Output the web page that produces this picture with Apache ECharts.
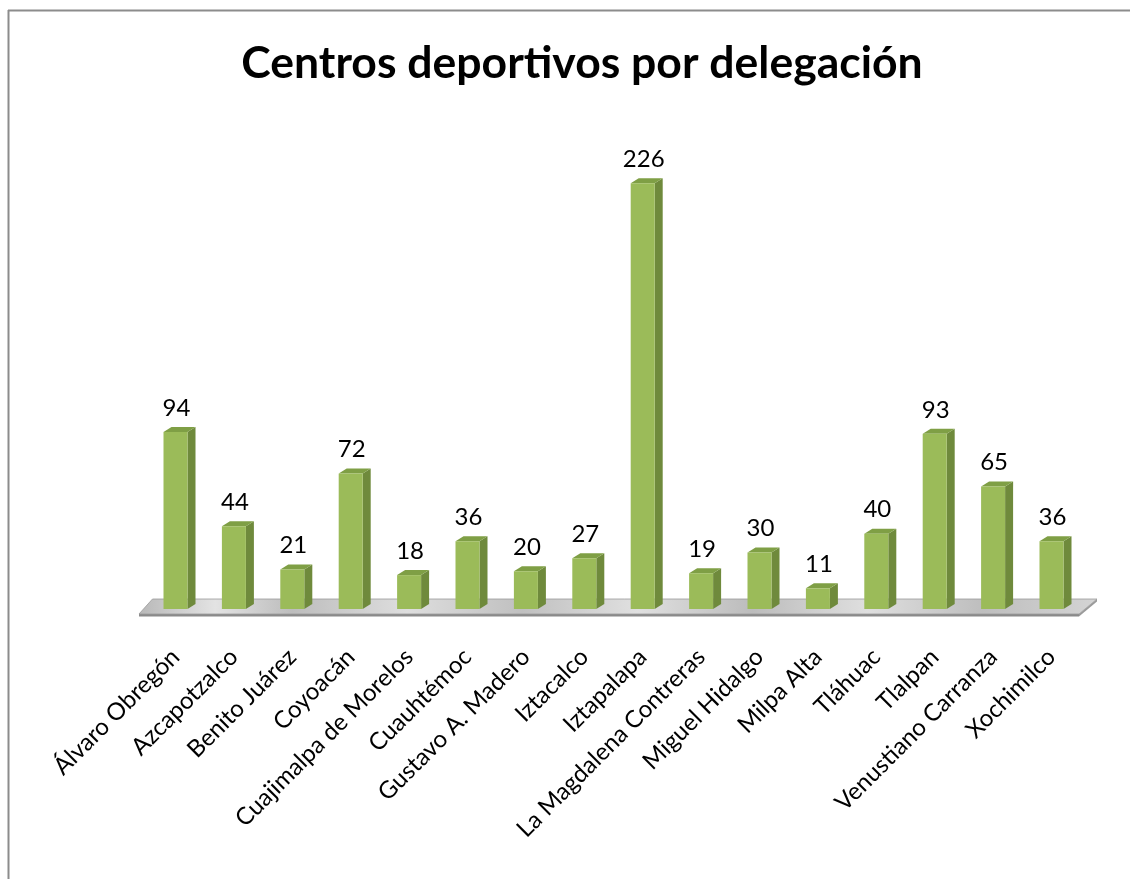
<!DOCTYPE html>
<html>
<head>
<meta charset="utf-8">
<script src="https://cdn.jsdelivr.net/npm/echarts@6/dist/echarts.min.js"></script>
<style>
html,body{margin:0;padding:0;background:#fff;}
#chart{width:1130px;height:879px;}
</style>
</head>
<body>
<div id="chart"></div>
<script>
const titleText = 'Centros deportivos por delegación';
const categories = ['Álvaro Obregón','Azcapotzalco','Benito Juárez','Coyoacán','Cuajimalpa de Morelos','Cuauhtémoc','Gustavo A. Madero','Iztacalco','Iztapalapa','La Magdalena Contreras','Miguel Hidalgo','Milpa Alta','Tláhuac','Tlalpan','Venustiano Carranza','Xochimilco'];
const values = [94,44,21,72,18,36,20,27,226,19,30,11,40,93,65,36];

const chart = echarts.init(document.getElementById('chart'));
const FONT = 'Lato, "Open Sans", sans-serif';

function barItem(params, api) {
  const i = api.value(0), v = api.value(1);
  const base = api.coord([i, 0]);
  const top = api.coord([i, v]);
  const w = 24, dx = 8, dy = 5;
  const xl = base[0] - w / 2, xr = base[0] + w / 2;
  const yb = base[1], yt = top[1];
  return {
    type: 'group',
    children: [
      { type: 'polygon', shape: { points: [[xr, yb], [xr, yt], [xr + dx, yt - dy], [xr + dx, yb - dy]] },
        style: { fill: '#6f8a3c' } },
      { type: 'polygon', shape: { points: [[xl, yt], [xr, yt], [xr + dx, yt - dy], [xl + dx, yt - dy]] },
        style: { fill: '#7f9f45' } },
      { type: 'rect', shape: { x: xl, y: yt, width: w, height: yb - yt },
        style: { fill: '#9bbb59' } },
      { type: 'text', x: base[0] + 1, y: yt - 24,
        style: { text: String(v), fill: '#000', font: '24px ' + FONT, align: 'center', verticalAlign: 'middle' } }
    ]
  };
}

function floorItem(params, api) {
  const a = api.coord([0, 0]);
  const b = api.coord([categories.length - 1, 0]);
  const y = a[1];
  const pts = [[a[0] - 36.5, y + 5], [a[0] - 23, y - 10], [b[0] + 45.5, y - 10], [b[0] + 27.5, y + 5]];
  return {
    type: 'group',
    children: [
      { type: 'polygon', shape: { points: [[a[0] - 36.5, y + 5], [b[0] + 27.5, y + 5], [b[0] + 27.5, y + 7.5], [a[0] - 36.5, y + 7.5]] },
        style: { fill: '#8a8a8a' } },
      { type: 'polygon', shape: { points: [[b[0] + 27.5, y + 5], [b[0] + 45.5, y - 10], [b[0] + 45.5, y - 7.5], [b[0] + 27.5, y + 7.5]] },
        style: { fill: '#9a9a9a' } },
      { type: 'polygon', shape: { points: pts },
        style: { fill: new echarts.graphic.LinearGradient(0, 0, 1, 0, [
          { offset: 0, color: '#b8b8b8' }, { offset: 0.08, color: '#e3e3e3' }, { offset: 0.16, color: '#bdbdbd' },
          { offset: 0.28, color: '#dedede' }, { offset: 0.4, color: '#c0c0c0' }, { offset: 0.52, color: '#e0e0e0' },
          { offset: 0.64, color: '#bcbcbc' }, { offset: 0.76, color: '#dfdfdf' }, { offset: 0.88, color: '#bebebe' },
          { offset: 1, color: '#d4d4d4' }]), stroke: '#9a9a9a', lineWidth: 0.8 } }
    ]
  };
}

chart.setOption({
  animation: false,
  backgroundColor: '#fff',
  title: {
    text: titleText, left: 577, top: 36, textAlign: 'center',
    textStyle: { fontFamily: FONT, fontWeight: 'bold', fontSize: 44.5, color: '#000' }
  },
  graphic: [
    { type: 'line', shape: { x1: 8, y1: 10.5, x2: 1130, y2: 10.5 }, style: { stroke: '#8c8c8c', lineWidth: 2 } },
    { type: 'line', shape: { x1: 8.5, y1: 10, x2: 8.5, y2: 879 }, style: { stroke: '#8c8c8c', lineWidth: 2 } }
  ],
  grid: { left: 146.3, right: 49.3, top: 157, bottom: 270 },
  xAxis: {
    type: 'category', data: categories,
    axisLine: { show: false }, axisTick: { show: false },
    axisLabel: { interval: 0, rotate: 45, margin: 44, fontFamily: FONT, fontSize: 24, color: '#000' }
  },
  yAxis: { type: 'value', min: 0, max: 240, show: false, splitLine: { show: false } },
  series: [
    { type: 'custom', renderItem: floorItem, data: [[0, 0]], z: 1, silent: true },
    { type: 'custom', renderItem: barItem, data: values.map((v, i) => [i, v]), z: 2,
      encode: { x: 0, y: 1 } }
  ]
});
</script>
</body>
</html>
